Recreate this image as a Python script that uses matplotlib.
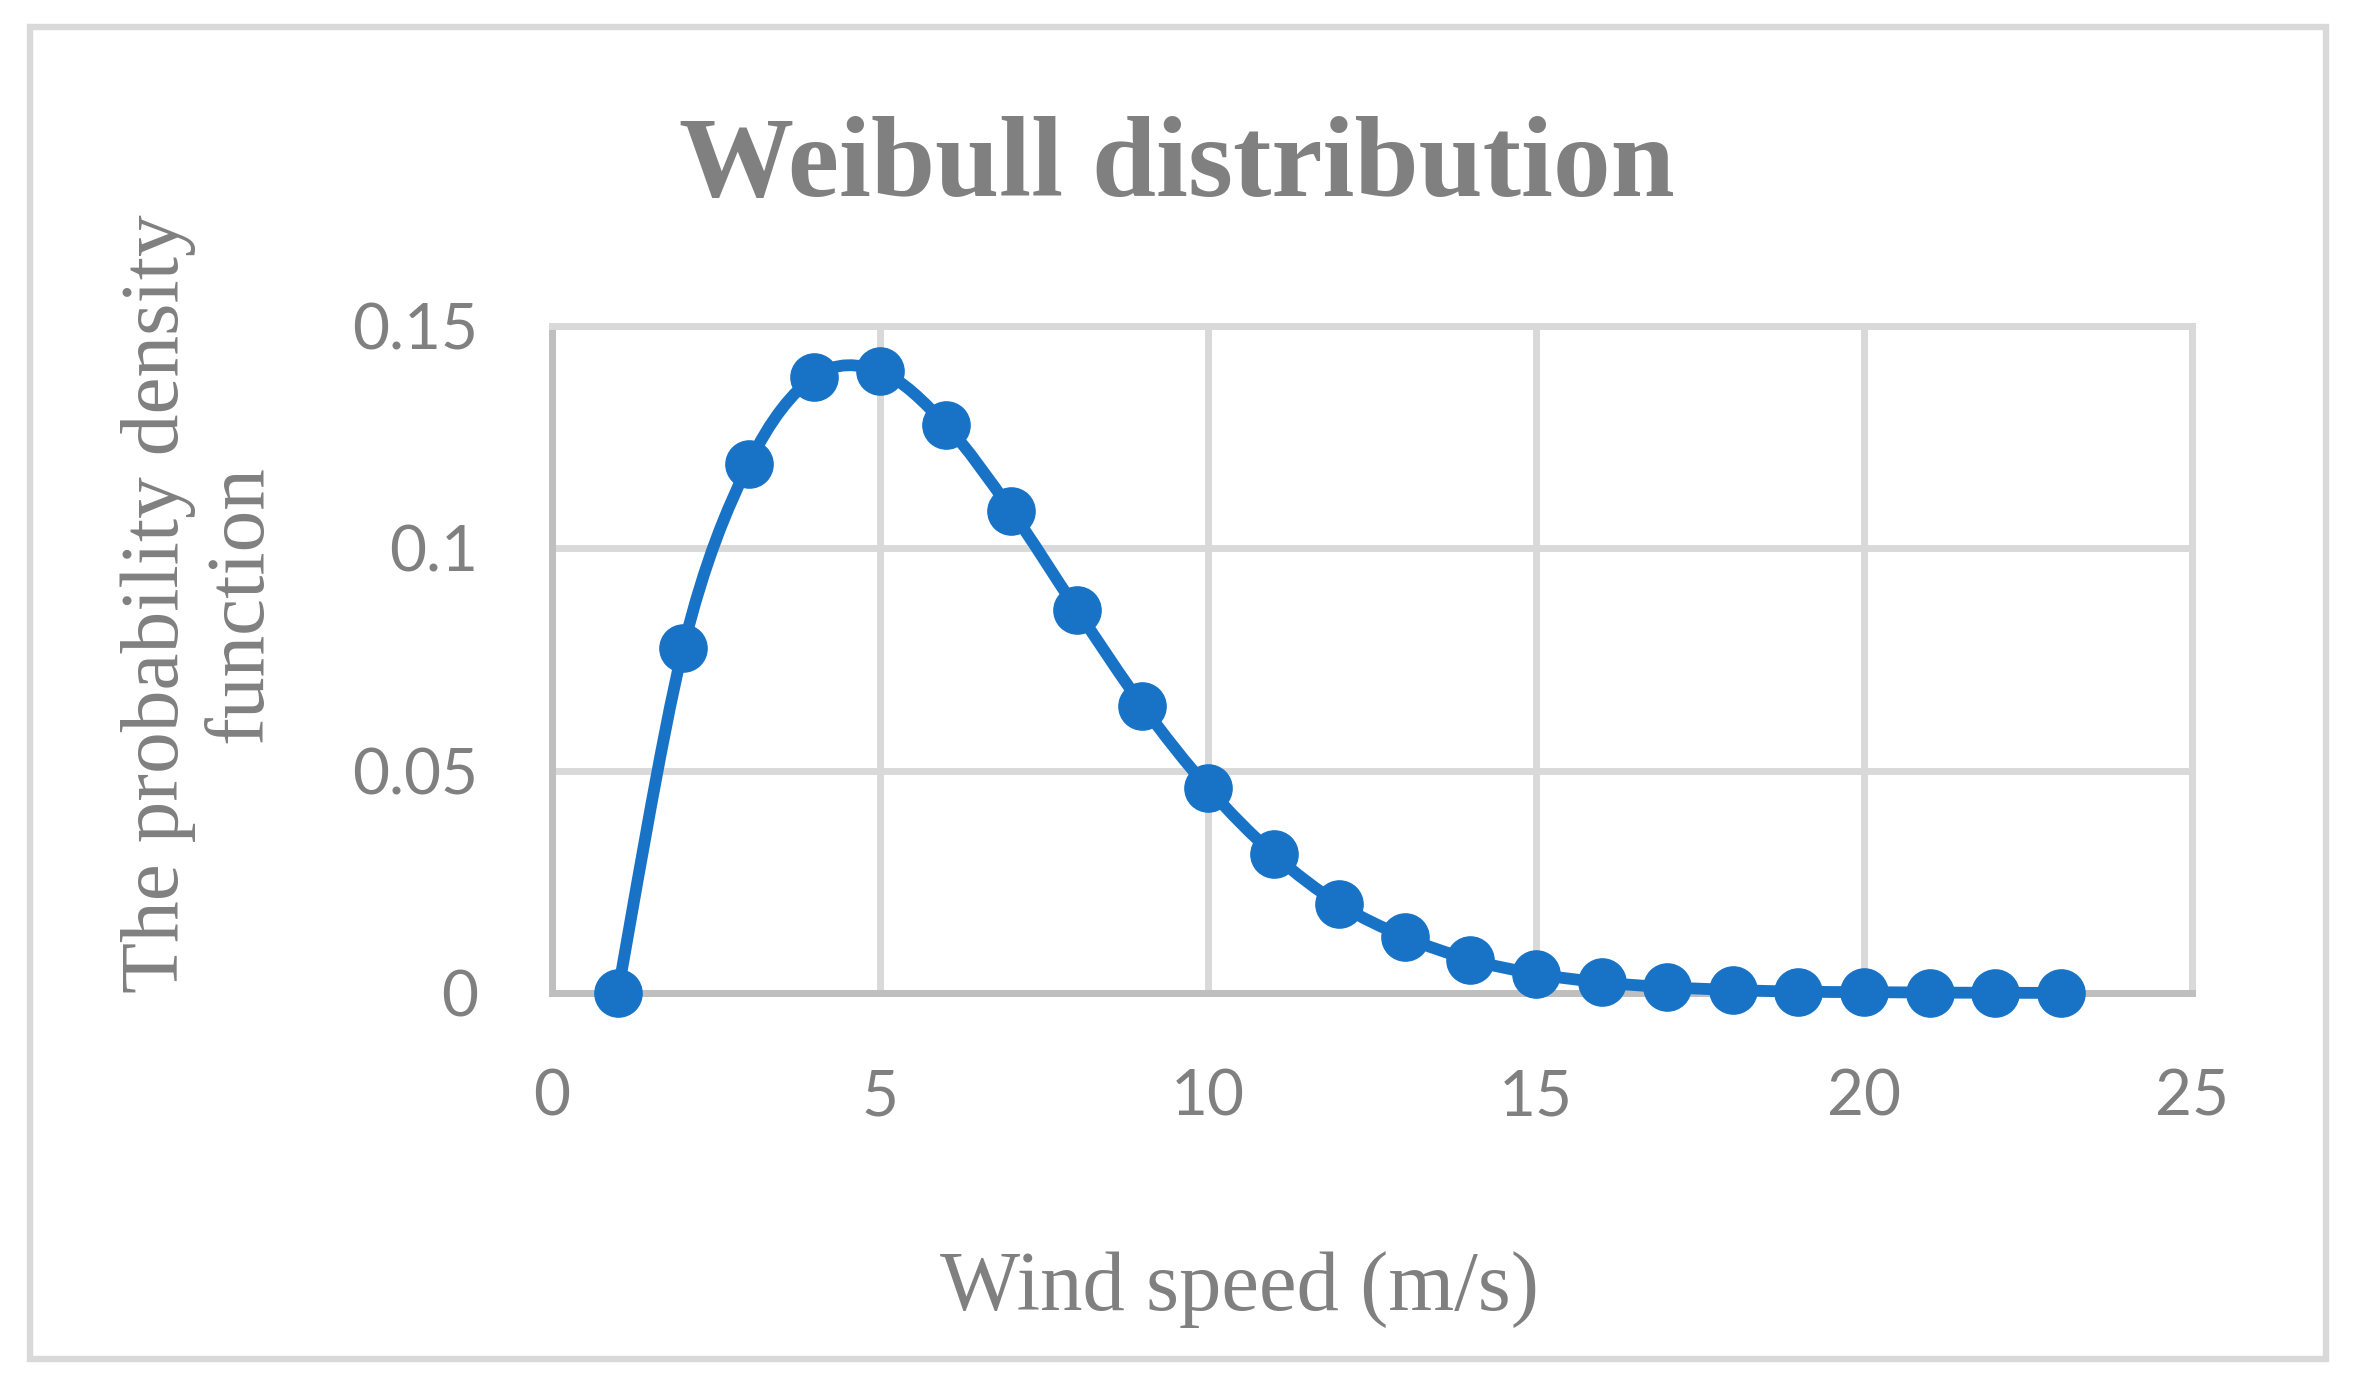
import numpy as np
import matplotlib
matplotlib.use('Agg')
import matplotlib.pyplot as plt
from matplotlib.path import Path
from matplotlib.patches import PathPatch, Rectangle

# wind speed (m/s) and Weibull pdf
wind_speed = [1, 2, 3, 4, 5, 6, 7, 8, 9, 10, 11, 12,
              13, 14, 15, 16, 17, 18, 19, 20, 21, 22, 23]
pdf = [0.0, 0.0776, 0.1190, 0.1386, 0.1398, 0.1278, 0.1085, 0.0862,
       0.0646, 0.0461, 0.0312, 0.0200, 0.0126, 0.0075, 0.0043, 0.0024,
       0.0013, 0.0007, 0.0003, 0.0002, 0.0001, 0.00005, 0.00002]

x_ticks = [0, 5, 10, 15, 20, 25]
y_ticks = [0, 0.05, 0.1, 0.15]
y_ticklabels = ['0', '0.05', '0.1', '0.15']

blue = '#1873c7'
grey_txt = '#808080'
grid_c = '#d9d9d9'
axis_c = '#bfbfbf'
serif = ['Liberation Serif', 'DejaVu Serif']
sans = ['Lato', 'DejaVu Sans']

W, H = 2354, 1390
fig = plt.figure(figsize=(W/100, H/100), dpi=100)
fig.patch.set_facecolor('white')

# outer chart border
fig.patches.append(Rectangle((29.5/W, 1-1358.5/H), (2325.5-29.5)/W, (1358.5-27)/H,
                             transform=fig.transFigure, fill=False,
                             edgecolor=grid_c, lw=4.6, zorder=0))

ax = fig.add_axes([552/W, 1-993/H, (2192-552)/W, (993-326)/H])
ax.set_xlim(0, 25)
ax.set_ylim(0, 0.15)
ax.set_xticks(x_ticks)
ax.set_yticks(y_ticks)
ax.set_yticklabels(y_ticklabels)
ax.tick_params(length=0, labelsize=46, labelcolor=grey_txt)
ax.tick_params(axis='y', pad=53)
ax.tick_params(axis='x', pad=54)
for lab in ax.get_xticklabels() + ax.get_yticklabels():
    lab.set_family(sans)
ax.grid(True, color=grid_c, lw=5, zorder=0)
ax.set_axisbelow(True)
for s in ['left', 'bottom']:
    ax.spines[s].set_color(axis_c)
    ax.spines[s].set_linewidth(5)
for s in ['top', 'right']:
    ax.spines[s].set_color(grid_c)
    ax.spines[s].set_linewidth(5)

# smoothed line (Excel style Bezier through the points)
pts = np.column_stack([wind_speed, pdf]).astype(float)
n = len(pts)
verts = [pts[0]]
codes = [Path.MOVETO]
for i in range(n - 1):
    p0, p3 = pts[i], pts[i + 1]
    pm = pts[i - 1] if i > 0 else pts[i]
    pp = pts[i + 2] if i + 2 < n else pts[i + 1]
    verts += [p0 + (p3 - pm) / 6, p3 - (pp - p0) / 6, p3]
    codes += [Path.CURVE4] * 3
ax.add_patch(PathPatch(Path(verts, codes), facecolor='none', edgecolor=blue,
                       lw=8.5, capstyle='round', joinstyle='round', zorder=4,
                       clip_on=False))
ax.plot(wind_speed, pdf, 'o', ms=34, color=blue, zorder=5, clip_on=False)

fig.text(0.5, 1-196/H, 'Weibull distribution', ha='center', va='baseline',
         fontsize=83, fontweight='bold', color=grey_txt, family=serif)
fig.text(1240/W, 1-1310/H, 'Wind speed (m/s)', ha='center', va='baseline',
         fontsize=61, color=grey_txt, family=serif)
fig.text(200/W, 1-604/H, 'The probability density\nfunction', ha='center',
         va='center', rotation=90, multialignment='center', linespacing=1.14,
         fontsize=60, color=grey_txt, family=serif)

fig.savefig('out.png', dpi=100, facecolor='white')
